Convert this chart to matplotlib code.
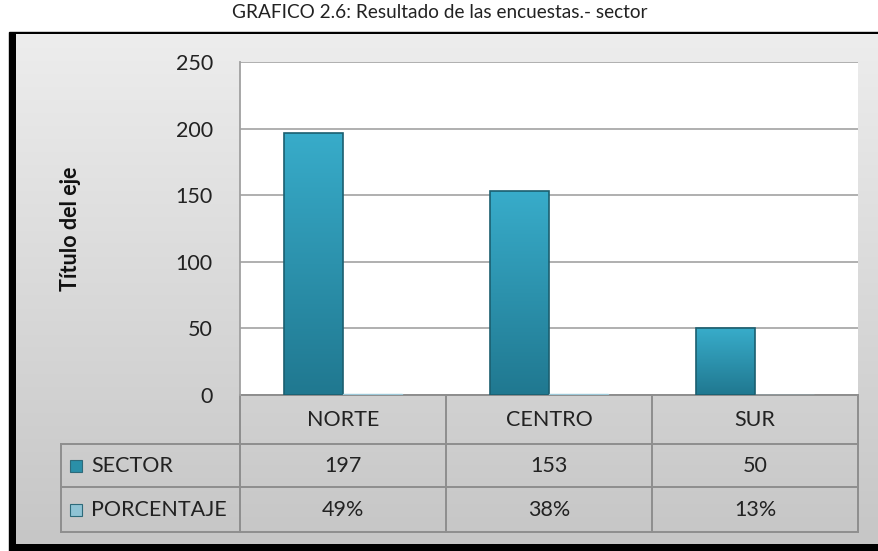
import numpy as np
import matplotlib
matplotlib.use('Agg')
import matplotlib.pyplot as plt
from matplotlib.patches import Rectangle

plt.rcParams['font.family'] = ['Lato', 'DejaVu Sans']

categories = ['NORTE', 'CENTRO', 'SUR']
series_names = ['SECTOR', 'PORCENTAJE']
sector = [197, 153, 50]
porcentaje = [0.49, 0.38, 0.13]
porcentaje_labels = ['49%', '38%', '13%']
yticks = [0, 50, 100, 150, 200, 250]

W, H = 879, 551
fig = plt.figure(figsize=(W / 100, H / 100), dpi=100)
FS = 15.5

# background frame in pixel coordinates
bg = fig.add_axes([0, 0, 1, 1], zorder=-5)
bg.add_patch(Rectangle((9, 32), W, H, color='black', zorder=0))
grad = np.linspace(0, 1, 256).reshape(-1, 1)
bg.imshow(grad, extent=(16, W, 544, 34), cmap=matplotlib.colors.LinearSegmentedColormap.from_list(
    'g', ['#c6c6c6', '#ededed']), aspect='auto', origin='lower', zorder=1)
bg.set_xlim(0, W)
bg.set_ylim(H, 0)
bg.axis('off')
fig.text(0.5, 1 - 13 / H, 'GRAFICO 2.6: Resultado de las encuestas.- sector',
         ha='center', va='center', fontsize=13.7, color='#222222')

# plot area
left, right, top, bottom = 240, 858, 62, 395
ax = fig.add_axes([left / W, (H - bottom) / H, (right - left) / W, (bottom - top) / H])
ax.set_facecolor('white')
ax.set_yticks(yticks)
ax.set_yticklabels([str(v) for v in yticks], fontsize=FS, color='#222222')
ax.tick_params(axis='y', length=0, pad=19.5)
ax.set_xticks([])
ax.grid(axis='y', color='#a9a9a9', linewidth=1.3)
ax.set_axisbelow(True)
for s in ['top', 'right', 'bottom']:
    ax.spines[s].set_visible(False)
ax.spines['left'].set_color('#a0a0a0')
ax.spines['left'].set_linewidth(1.3)
ax.set_ylabel('Título del eje', fontsize=15.5, fontweight='bold', labelpad=68, color='#111111')

x = np.arange(len(categories))
bw = 0.285
cmap_bar = matplotlib.colors.LinearSegmentedColormap.from_list('b', ['#207890', '#38acca'])
bars = ax.bar(x - bw / 2, sector, bw, color='none', edgecolor='#1b5f70', linewidth=1.2, zorder=3)
for b in bars:
    x0, y0, w, h = b.get_x(), b.get_y(), b.get_width(), b.get_height()
    im = ax.imshow(grad, extent=(x0, x0 + w, y0, y0 + h), cmap=cmap_bar, aspect='auto',
                   origin='lower', zorder=2.5)
    im.set_clip_path(b)
ax.bar(x + bw / 2, porcentaje, bw, color='#9cc8d8', edgecolor='#9cc8d8', linewidth=1, zorder=3)
ax.set_xlim(-0.5, len(categories) - 0.5)
ax.set_ylim(0, 250)

# data table below the plot
tr = ax.get_xaxis_transform()
ph = bottom - top
rows = [0, -(444 - bottom) / ph, -(487 - bottom) / ph, -(532 - bottom) / ph]
xl = -0.5 - (left - 61) / ((right - left) / len(categories))
lc = '#8e8e8e'
kw = dict(transform=tr, clip_on=False, color=lc, linewidth=1.4)
ax.plot([-0.5, 2.5], [rows[0], rows[0]], **kw)
for r in rows[1:]:
    ax.plot([xl, 2.5], [r, r], **kw)
for xv in [-0.5, 0.5, 1.5, 2.5]:
    ax.plot([xv, xv], [0, rows[3]], **kw)
ax.plot([xl, xl], [rows[1], rows[3]], **kw)

for i, c in enumerate(categories):
    ax.text(i, (rows[0] + rows[1]) / 2, c, transform=tr, ha='center', va='center',
            fontsize=FS, color='#222222')
    ax.text(i, (rows[1] + rows[2]) / 2, str(sector[i]), transform=tr, ha='center', va='center',
            fontsize=FS, color='#222222')
    ax.text(i, (rows[2] + rows[3]) / 2, porcentaje_labels[i], transform=tr, ha='center',
            va='center', fontsize=FS, color='#222222')

key_colors = ['#2a8fa8', '#8fc3d4']
for j, name in enumerate(series_names):
    yc = (rows[1 + j] + rows[2 + j]) / 2
    bg.add_patch(Rectangle((70, bottom - yc * ph - 6), 12, 12, facecolor=key_colors[j],
                           edgecolor='#2d6a7a', linewidth=0.8, zorder=2))
    ax.text(xl + 0.145, yc, name, transform=tr, ha='left', va='center',
            fontsize=FS, color='#222222')

fig.savefig('out.png', dpi=100)
